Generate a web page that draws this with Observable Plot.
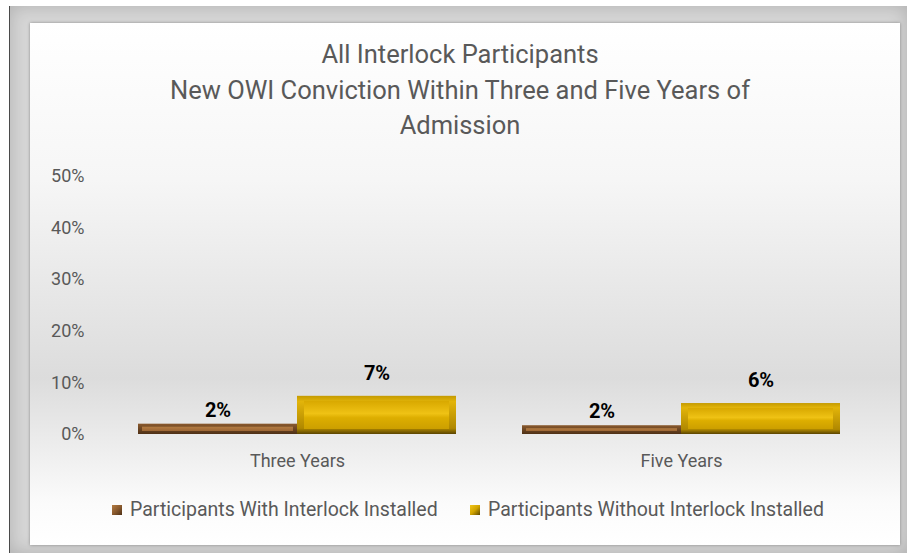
<!DOCTYPE html>
<html>
<head>
<meta charset="utf-8">
<script src="https://cdn.jsdelivr.net/npm/d3@7"></script>
<script src="https://cdn.jsdelivr.net/npm/@observablehq/plot@0.6"></script>
<style>
  html, body { margin: 0; padding: 0; background: #ffffff; width: 911px; height: 559px; overflow: hidden; font-family: Roboto, "Open Sans", sans-serif; }
  #frame { position: absolute; left: 9px; top: 6px; width: 897px; height: 547px; background: #d6d6d6; border-left: 1px solid #4a4a4a; box-shadow: inset 0 0 18px rgba(0,0,0,0.18); }
  #panel { position: absolute; left: 30px; top: 23px; width: 870px; height: 522px;
    background: linear-gradient(to bottom, #ffffff 0%, #f6f6f6 30%, #e3e3e3 58%, #dcdcdc 68%, #eeeeee 82%, #fbfbfb 92%, #ffffff 100%);
    box-shadow: 0 0 3px rgba(0,0,0,0.35); }
  #title { position: absolute; left: 30px; top: 37px; width: 860px; text-align: center; color: #595959; font-size: 25.5px; line-height: 35.5px; }
  #chart { position: absolute; left: 30px; top: 150px; }
  .leg { position: absolute; top: 500px; height: 20px; line-height: 20px; color: #595959; font-size: 19.5px; white-space: nowrap; }
  .sw { display: inline-block; width: 10px; height: 10px; vertical-align: middle; margin-right: 8px; position: relative; top: -1px; }
</style>
</head>
<body>
<div id="frame"></div>
<div id="panel"></div>
<div id="title">All Interlock Participants<br>New OWI Conviction Within Three and Five Years of<br>Admission</div>
<div id="chart"></div>
<div id="legend"></div>
<script>
const categories = ["Three Years", "Five Years"];
const seriesNames = ["Participants With Interlock Installed", "Participants Without Interlock Installed"];
const withInterlock = [0.02, 0.017];
const withoutInterlock = [0.074, 0.06];
const yTicks = [0, 0.1, 0.2, 0.3, 0.4, 0.5];

const rows = [];
categories.forEach((c, i) => {
  rows.push({category: c, series: seriesNames[0], value: withInterlock[i]});
  rows.push({category: c, series: seriesNames[1], value: withoutInterlock[i]});
});
const brownRows = rows.filter(d => d.series === seriesNames[0]);
const goldRows = rows.filter(d => d.series === seriesNames[1]);
const pct = d3.format(".0%");

const chart = Plot.plot({
  width: 870,
  height: 330,
  marginLeft: 75,
  marginRight: 27,
  marginTop: 26,
  marginBottom: 46,
  style: {background: "transparent", fontFamily: "Roboto, sans-serif", fontSize: "16px", color: "#595959", overflow: "visible"},
  fx: {domain: categories, padding: 0, label: null},
  x: {domain: seriesNames, axis: null, paddingInner: 0, paddingOuter: 0.204},
  y: {domain: [0, 0.5], label: null},
  marks: [
    Plot.axisY(yTicks, {tickFormat: pct, tickSize: 0, tickPadding: 21, fontSize: 18, fill: "#595959", label: null}),
    Plot.axisFx({anchor: "bottom", tickSize: 0, tickPadding: 20, fontSize: 18, fill: "#595959", label: null}),
    Plot.barY(brownRows, {fx: "category", x: "series", y: "value", fill: "url(#gBrownOuter)"}),
    Plot.barY(brownRows, {fx: "category", x: "series", y: "value", fill: "url(#gBrownInner)", insetTop: 3, insetBottom: 3, insetLeft: 4, insetRight: 4}),
    Plot.barY(goldRows, {fx: "category", x: "series", y: "value", fill: "url(#gGoldOuter)"}),
    Plot.barY(goldRows, {fx: "category", x: "series", y: "value", fill: "url(#gGoldInner)", insetTop: 5, insetBottom: 5, insetLeft: 7, insetRight: 7}),
    Plot.text(brownRows, {fx: "category", x: "series", y: "value", text: d => pct(d.value), dy: -14, fontSize: 20, fontWeight: "bold", fill: "#000"}),
    Plot.text(goldRows, {fx: "category", x: "series", y: "value", text: d => pct(d.value), dy: -23, fontSize: 20, fontWeight: "bold", fill: "#000"})
  ]
});

const defs = `
<defs>
  <linearGradient id="gGoldOuter" x1="0" y1="0" x2="0" y2="1">
    <stop offset="0" stop-color="#c49a00"/>
    <stop offset="0.15" stop-color="#e2b40a"/>
    <stop offset="0.85" stop-color="#b08800"/>
    <stop offset="1" stop-color="#5a4400"/>
  </linearGradient>
  <linearGradient id="gGoldInner" x1="0" y1="0" x2="0" y2="1">
    <stop offset="0" stop-color="#d8a800"/>
    <stop offset="0.45" stop-color="#efc214"/>
    <stop offset="0.6" stop-color="#ddae00"/>
    <stop offset="1" stop-color="#cc9f00"/>
  </linearGradient>
  <linearGradient id="gBrownOuter" x1="0" y1="0" x2="0" y2="1">
    <stop offset="0" stop-color="#8a5a2e"/>
    <stop offset="1" stop-color="#4e3016"/>
  </linearGradient>
  <linearGradient id="gBrownInner" x1="0" y1="0" x2="0" y2="1">
    <stop offset="0" stop-color="#b47c42"/>
    <stop offset="1" stop-color="#9c6634"/>
  </linearGradient>
</defs>`;
chart.insertAdjacentHTML("afterbegin", defs);
document.getElementById("chart").appendChild(chart);

// Legend
const legend = document.getElementById("legend");
const legendItems = [
  {name: seriesNames[0], left: 112, bg: "linear-gradient(135deg, #b47c42 0%, #8a5a2e 50%, #4e3016 100%)"},
  {name: seriesNames[1], left: 470, bg: "linear-gradient(135deg, #f2c61c 0%, #d2a500 50%, #5e4800 100%)"}
];
legendItems.forEach(it => {
  const el = document.createElement("div");
  el.className = "leg";
  el.style.left = it.left + "px";
  const sw = document.createElement("span");
  sw.className = "sw";
  sw.style.background = it.bg;
  el.appendChild(sw);
  el.appendChild(document.createTextNode(it.name));
  legend.appendChild(el);
});
</script>
</body>
</html>
